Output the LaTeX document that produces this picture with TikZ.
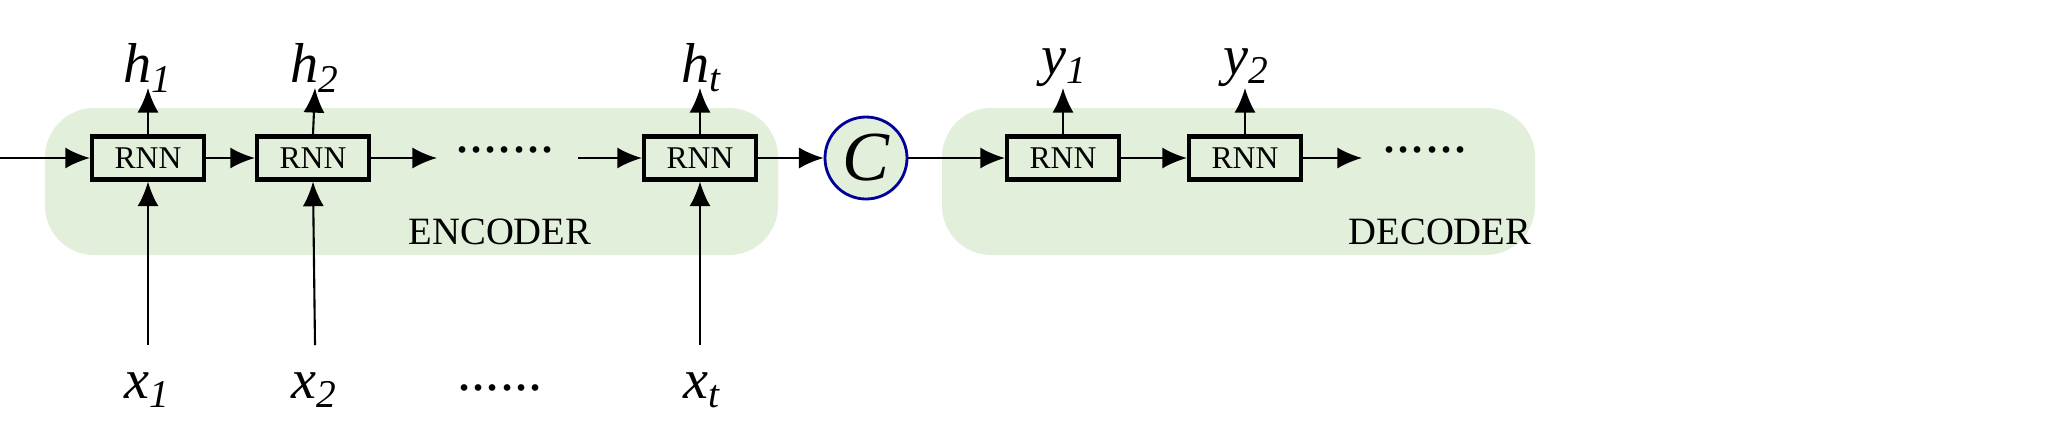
\documentclass[tikz,border=0pt]{standalone}
\usepackage{fontspec}
\setmainfont{Liberation Serif}
\usetikzlibrary{arrows.meta}
\begin{document}
\begin{tikzpicture}[x=0.2845pt,y=-0.2845pt,
  rnn/.style={draw,line width=1.2pt,minimum width=1.12cm,minimum height=0.43cm,inner sep=0pt,font=\fontsize{9}{10}\selectfont},
  lab/.style={font=\fontsize{16}{18}\selectfont\itshape,inner sep=0pt},
  captxt/.style={font=\fontsize{11}{12}\selectfont,inner sep=0pt},
  ar/.style={-{Latex[length=7pt,width=6pt]},line width=0.6pt},
  dts/.style={font=\fontsize{16}{18}\selectfont,inner sep=0pt}]
\definecolor{pg}{RGB}{226,239,218}
\fill[white] (0,0) rectangle (2046,430);
\useasboundingbox (0,0) rectangle (2046,430);
\fill[pg,rounded corners=14pt] (45,108) rectangle (778,255);
\fill[pg,rounded corners=14pt] (942,108) rectangle (1535,255);
\tikzset{rnn/.append style={fill=pg}}
\node[rnn] (r1) at (148,158) {RNN};
\node[rnn] (r2) at (313,158) {RNN};
\node[rnn] (r3) at (700,158) {RNN};
\node[rnn] (d1) at (1063,158) {RNN};
\node[rnn] (d2) at (1245,158) {RNN};
\node[draw=blue!60!black,line width=0.8pt,fill=pg,circle,minimum size=0.82cm,inner sep=0pt,font=\fontsize{20}{22}\selectfont\itshape] (c) at (866,158) {C};
\node[captxt] (enc) at (500,232) {ENCODER};
\node[captxt] (dec) at (1440,232) {DECODER};
\node[lab] (h1) at (148,68) {h\textsubscript{1}};
\node[lab] (h2) at (315,68) {h\textsubscript{2}};
\node[lab] (ht) at (702,68) {h\textsubscript{t}};
\node[lab] (y1) at (1065,68) {y\textsubscript{1}};
\node[lab] (y2) at (1247,68) {y\textsubscript{2}};
\node[lab] (x1) at (148,390) {x\textsubscript{1}};
\node[lab] (x2) at (315,390) {x\textsubscript{2}};
\node[lab] (xt) at (702,390) {x\textsubscript{t}};
\node[dts] (bd) at (500,388) {......};
\node[dts] (md) at (505,150) {.......};
\node[dts] (ed) at (1425,150) {......};
\coordinate (in) at (0,158);
\coordinate (a1) at (148,88); \coordinate (a2) at (315,88); \coordinate (a3) at (700,88);
\coordinate (b1) at (1063,88); \coordinate (b2) at (1245,88);
\coordinate (s1) at (148,345); \coordinate (s2) at (315,345); \coordinate (s3) at (700,345);
\draw[ar] (in) -- (r1);
\draw[ar] (r1) -- (r2);
\draw[ar] (r2.east) -- (437,158);
\draw[ar] (578,158) -- (r3.west);
\draw[ar] (r3) -- (c);
\draw[ar] (c) -- (d1);
\draw[ar] (d1) -- (d2);
\draw[ar] (d2.east) -- (1362,158);
\draw[ar] (r1.north) -- (a1); \draw[ar] (r2.north) -- (a2); \draw[ar] (r3.north) -- (a3);
\draw[ar] (d1.north) -- (b1); \draw[ar] (d2.north) -- (b2);
\draw[ar] (s1) -- (r1.south); \draw[ar] (s2) -- (r2.south); \draw[ar] (s3) -- (r3.south);
\end{tikzpicture}
\end{document}
